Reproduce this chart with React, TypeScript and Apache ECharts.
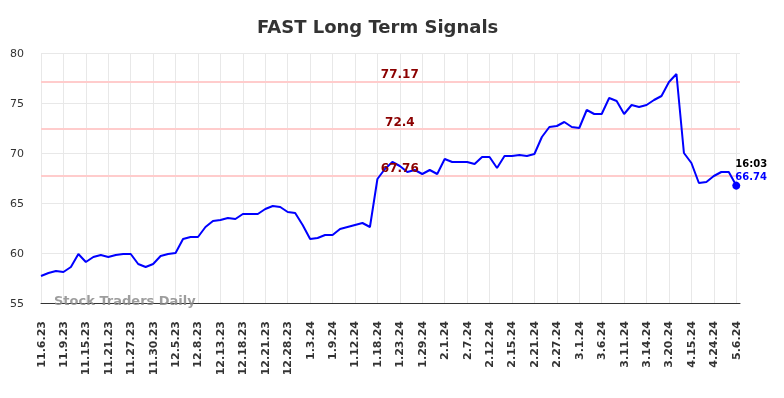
import React, { useEffect, useRef } from "react";
import * as echarts from "echarts";

const dateLabels = [
  "11.6.23", "11.9.23", "11.15.23", "11.21.23", "11.27.23", "11.30.23", "12.5.23", "12.8.23",
  "12.13.23", "12.18.23", "12.21.23", "12.28.23", "1.3.24", "1.9.24", "1.12.24", "1.18.24",
  "1.23.24", "1.29.24", "2.1.24", "2.7.24", "2.12.24", "2.15.24", "2.21.24", "2.27.24",
  "3.1.24", "3.6.24", "3.11.24", "3.14.24", "3.20.24", "4.15.24", "4.24.24", "5.6.24",
];

const prices = [
  57.7, 58.0, 58.2, 58.1, 58.6, 59.9, 59.1, 59.6, 59.8, 59.6,
  59.8, 59.9, 59.9, 58.9, 58.6, 58.9, 59.7, 59.9, 60.0, 61.4,
  61.6, 61.6, 62.6, 63.2, 63.3, 63.5, 63.4, 63.9, 63.9, 63.9,
  64.4, 64.7, 64.6, 64.1, 64.0, 62.8, 61.4, 61.5, 61.8, 61.8,
  62.4, 62.6, 62.8, 63.0, 62.6, 67.4, 68.4, 69.1, 68.7, 68.1,
  68.3, 67.9, 68.3, 67.9, 69.4, 69.1, 69.1, 69.1, 68.9, 69.6,
  69.6, 68.5, 69.7, 69.7, 69.8, 69.7, 69.9, 71.6, 72.6, 72.7,
  73.1, 72.6, 72.5, 74.3, 73.9, 73.9, 75.5, 75.2, 73.9, 74.8,
  74.6, 74.8, 75.3, 75.7, 77.1, 77.9, 70.0, 69.0, 67.0, 67.1,
  67.7, 68.1, 68.1, 66.74,
];

const signalLevels = [77.17, 72.4, 67.76];
const labelEvery = 3;
const lastTime = "16:03";

export default function App() {
  const ref = useRef<HTMLDivElement>(null);

  useEffect(() => {
    if (!ref.current) return;
    const chart = echarts.init(ref.current, undefined, { renderer: "svg" });
    const lastIdx = prices.length - 1;
    const lastVal = prices[lastIdx];

    chart.setOption({
      animation: false,
      textStyle: { fontFamily: "DejaVu Sans" },
      title: {
        text: "FAST Long Term Signals",
        left: 252,
        top: 12,
        textStyle: { fontFamily: "DejaVu Sans", fontWeight: "bold", fontSize: 18, color: "#333" },
      },
      grid: { left: 41, right: 44, top: 53, bottom: 95, containLabel: false },
      xAxis: {
        type: "value",
        min: 0,
        max: lastIdx + 0.5,
        interval: labelEvery,
        axisLine: { show: true, lineStyle: { color: "#333", width: 1 } },
        axisTick: { show: false },
        splitLine: {
          show: true,
          showMaxLine: false,
          lineStyle: { color: "#e8e8e8", width: 1 },
        },
        axisLabel: {
          rotate: 90,
          margin: 18,
          fontSize: 11,
          fontWeight: "bold",
          color: "#333",
          showMaxLabel: false,
          formatter: (v: number) => {
            if (Math.abs(v - Math.round(v)) > 1e-6) return "";
            const r = Math.round(v);
            if (r % labelEvery !== 0) return "";
            return dateLabels[r / labelEvery] ?? "";
          },
        },
      },
      yAxis: {
        type: "value",
        min: 55,
        max: 80,
        interval: 5,
        axisLine: { show: false },
        axisTick: { show: false },
        splitLine: { show: true, lineStyle: { color: "#e8e8e8", width: 1 } },
        axisLabel: { fontSize: 11, color: "#333", margin: 17 },
      },
      graphic: [
        {
          type: "text",
          left: 54,
          top: 294,
          z: 100,
          style: {
            text: "Stock Traders Daily",
            fill: "rgba(140,140,140,0.85)",
            font: "bold 13px 'DejaVu Sans'",
          },
        },
      ],
      series: [
        {
          type: "line",
          data: prices.map((v, i) => [i, v]),
          showSymbol: false,
          lineStyle: { color: "#0000ff", width: 2 },
          itemStyle: { color: "#0000ff" },
          z: 3,
          markLine: {
            silent: true,
            symbol: "none",
            z: 2,
            lineStyle: { color: "#ffcccc", width: 2, type: "solid" },
            label: { show: false },
            data: signalLevels.map((v) => ({ yAxis: v })),
          },
          markPoint: {
            silent: true,
            z: 5,
            data: [
              ...signalLevels.map((v) => ({
                coord: [48, v],
                symbol: "circle",
                symbolSize: 0,
                label: {
                  show: true,
                  position: "top",
                  distance: 1,
                  formatter: String(v),
                  color: "#8b0000",
                  fontWeight: "bold",
                  fontSize: 12,
                },
              })),
              {
                coord: [lastIdx, lastVal],
                symbol: "circle",
                symbolSize: 8,
                itemStyle: { color: "#0000ff" },
                label: {
                  show: true,
                  position: [3, -25],
                  formatter: `{t|${lastTime}}\n{v|${lastVal}}`,
                  rich: {
                    t: { color: "#000", fontWeight: "bold", fontSize: 10, lineHeight: 13 },
                    v: { color: "#0000ff", fontWeight: "bold", fontSize: 10, lineHeight: 13 },
                  },
                },
              },
            ],
          },
        },
      ],
    });

    return () => chart.dispose();
  }, []);

  return (
    <div
      ref={ref}
      style={{ position: "fixed", left: 0, top: 0, width: 784, height: 398 }}
    />
  );
}
